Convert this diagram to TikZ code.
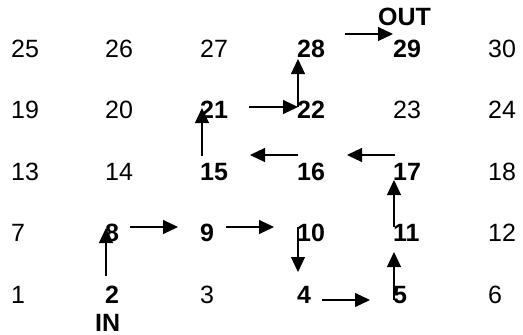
\documentclass[tikz,border=0pt]{standalone}
\usepackage{fontspec}
\setmainfont{Liberation Sans}
\usetikzlibrary{arrows.meta}

\begin{document}
\begin{tikzpicture}[x=1pt,y=-1pt,
    num/.style={anchor=base west,inner sep=0pt,text depth=0pt,font=\fontsize{25}{30}\selectfont},
    key/.style={num,font=\fontsize{25}{30}\selectfont\bfseries},
    flow/.style={line width=1.1pt,-{Triangle[length=15pt,width=14pt]}}]
    \useasboundingbox (0,0) rectangle (523,335);

    % Row 1
    \node[num] (n1) at (11,303) {1};
    \node[key] (n2) at (105,303) {2};
    \node[num] (n3) at (200,303) {3};
    \node[key] (n4) at (297,303) {4};
    \node[key] (n5) at (393,303) {5};
    \node[num] (n6) at (488,303) {6};

    % Row 2
    \node[num] (n7) at (11,241) {7};
    \node[key] (n8) at (105,241) {8};
    \node[key] (n9) at (200,241) {9};
    \node[key] (n10) at (297,241) {10};
    \node[key] (n11) at (393,241) {11};
    \node[num] (n12) at (488,241) {12};

    % Row 3
    \node[num] (n13) at (11,180) {13};
    \node[num] (n14) at (105,180) {14};
    \node[key] (n15) at (200,180) {15};
    \node[key] (n16) at (297,180) {16};
    \node[key] (n17) at (393,180) {17};
    \node[num] (n18) at (488,180) {18};

    % Row 4
    \node[num] (n19) at (11,118) {19};
    \node[num] (n20) at (105,118) {20};
    \node[key] (n21) at (200,118) {21};
    \node[key] (n22) at (297,118) {22};
    \node[num] (n23) at (393,118) {23};
    \node[num] (n24) at (488,118) {24};

    % Row 5
    \node[num] (n25) at (11,57) {25};
    \node[num] (n26) at (105,57) {26};
    \node[num] (n27) at (200,57) {27};
    \node[key] (n28) at (297,57) {28};
    \node[key] (n29) at (393,57) {29};
    \node[num] (n30) at (488,57) {30};

    % Entry and exit
    \node[key] (in) at (95,331) {IN};
    \node[key] (out) at (378,25) {OUT};

    % Path through the grid
    \draw[flow] ([shift={(1,-27)}]n2.base west) -- ([shift={(1,-13)}]n8.base west);
    \draw[flow] ([shift={(25,-14)}]n8.base west) -- ([shift={(-22,-14)}]n9.base west);
    \draw[flow] ([shift={(26,-14)}]n9.base west) -- ([shift={(-23,-14)}]n10.base west);
    \draw[flow] ([shift={(1,-14)}]n10.base west) -- ([shift={(1,-31)}]n4.base west);
    \draw[flow] ([shift={(25,-3)}]n4.base west) -- ([shift={(-23,-3)}]n5.base west);
    \draw[flow] ([shift={(1,-3)}]n5.base west) -- ([shift={(1,11)}]n11.base west);
    \draw[flow] ([shift={(1,-14)}]n11.base west) -- ([shift={(1,0)}]n17.base west);
    \draw[flow] ([shift={(2,-25)}]n17.base west) -- ([shift={(50,-25)}]n16.base west);
    \draw[flow] ([shift={(1,-25)}]n16.base west) -- ([shift={(50,-25)}]n15.base west);
    \draw[flow] ([shift={(2,-24)}]n15.base west) -- ([shift={(2,-10)}]n21.base west);
    \draw[flow] ([shift={(49,-11)}]n21.base west) -- ([shift={(1,-11)}]n22.base west);
    \draw[flow] ([shift={(1,-11)}]n22.base west) -- ([shift={(1,2)}]n28.base west);
    \draw[flow] ([shift={(48,-23)}]n28.base west) -- ([shift={(0,-23)}]n29.base west);
\end{tikzpicture}
\end{document}
